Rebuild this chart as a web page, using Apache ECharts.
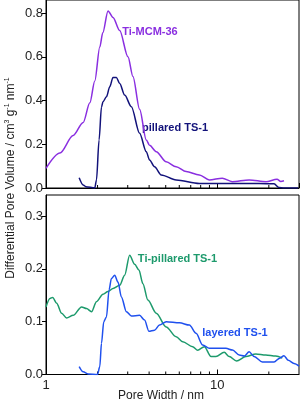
<!DOCTYPE html>
<html><head><meta charset="utf-8">
<script src="https://cdn.jsdelivr.net/npm/echarts@6/dist/echarts.min.js"></script>
<style>html,body{margin:0;padding:0;background:#fff}#c{width:301px;height:402px}</style>
</head><body><div id="c"></div>
<script>
// Pore width (nm) / differential pore volume (cm3 g-1 nm-1)
const mcm36X = [1.0, 1.206, 1.441, 1.648, 1.803, 1.927, 2.061, 2.145, 2.302, 2.462, 2.693, 3.010, 3.218, 3.520, 3.850, 4.025, 4.402, 5.031, 5.753, 6.577, 7.858, 8.985, 10.70, 12.22, 15.35, 19.27, 22.33, 23.5, 24.52];
const mcm36Y = [0.09, 0.16, 0.24, 0.30, 0.39, 0.49, 0.645, 0.71, 0.81, 0.78, 0.72, 0.60, 0.51, 0.36, 0.22, 0.195, 0.166, 0.12, 0.097, 0.075, 0.06, 0.037, 0.045, 0.029, 0.037, 0.029, 0.04, 0.03, 0.033];

const pillX = [1.562, 1.648, 1.708, 1.927, 1.971, 2.041, 2.108, 2.152, 2.254, 2.356, 2.462, 2.577, 2.693, 2.879, 3.150, 3.520, 3.850, 4.025, 4.302, 4.706, 5.753, 7.858, 12.22, 17.55, 21.45, 22.94, 24.52, 29.6];
const pillY = [0.047, 0.014, 0.006, 0.0, 0.037, 0.22, 0.37, 0.395, 0.417, 0.463, 0.506, 0.506, 0.478, 0.425, 0.372, 0.25, 0.166, 0.128, 0.097, 0.06, 0.037, 0.021, 0.021, 0.021, 0.019, 0.002, 0.0, 0.0];

const tiPillX = [1.0, 1.055, 1.094, 1.154, 1.234, 1.319, 1.441, 1.613, 1.724, 1.844, 1.971, 2.152, 2.302, 2.462, 2.693, 2.879, 3.078, 3.292, 3.487, 3.679, 3.934, 4.402, 5.031, 5.753, 6.285, 7.185, 7.683, 8.403, 9.193, 9.827, 10.98, 11.74, 12.95, 14.69, 16.79, 19.19, 21.94, 23.97];
const tiPillY = [0.128, 0.144, 0.146, 0.135, 0.116, 0.107, 0.112, 0.128, 0.125, 0.119, 0.138, 0.152, 0.157, 0.163, 0.169, 0.188, 0.226, 0.209, 0.198, 0.172, 0.141, 0.116, 0.090, 0.0715, 0.062, 0.0526, 0.046, 0.0526, 0.034, 0.034, 0.042, 0.034, 0.0255, 0.034, 0.039, 0.037, 0.035, 0.031];

const layX = [1.562, 1.648, 1.762, 1.998, 2.061, 2.108, 2.174, 2.254, 2.334, 2.41, 2.518, 2.633, 2.755, 2.946, 3.150, 3.520, 3.763, 3.986, 4.302, 4.599, 5.031, 6.013, 6.875, 7.518, 8.216, 8.985, 11.23, 12.27, 13.43, 14.36, 15.35, 16.41, 18.34, 21.45, 23.15, 24.52, 25.97, 28.04, 30];
const layY = [0.015, 0.005, 0.001, 0.0, 0.015, 0.059, 0.1, 0.109, 0.16, 0.182, 0.188, 0.175, 0.147, 0.119, 0.111, 0.112, 0.103, 0.082, 0.084, 0.0936, 0.1, 0.098, 0.0936, 0.078, 0.0558, 0.0495, 0.0495, 0.0463, 0.037, 0.035, 0.043, 0.034, 0.0236, 0.0236, 0.031, 0.0355, 0.027, 0.021, 0.016];

const minorTickVals = [2, 3, 4, 5, 6, 7, 8, 9, 20];
const topYTicks = [0.0, 0.2, 0.4, 0.6, 0.8];
const botYTicks = [0.0, 0.1, 0.2, 0.3];

const seriesNames = ['Ti-MCM-36', 'pillared TS-1', 'Ti-pillared TS-1', 'layered TS-1'];
const colors = ['#8a2fe0', '#12127a', '#1d9a6c', '#1f50ee'];

const zip = (xs, ys) => xs.map((x, i) => [x, ys[i]]);
const FONT = '"Liberation Sans", Arial, sans-serif';

const chart = echarts.init(document.getElementById('c'), null, {renderer: 'canvas'});

function xAxisCfg(gi, showLabel) {
  return {
    type: 'log', logBase: 10, gridIndex: gi, min: 1, max: 30,
    axisLine: {show: true, lineStyle: {color: '#000', width: 1}},
    axisTick: {show: true, inside: true, length: 5, lineStyle: {color: '#000'}},
    axisLabel: {show: showLabel, margin: 4, color: '#222', fontSize: 13, fontFamily: FONT, showMaxLabel: false},
    splitLine: {show: false}
  };
}
function yAxisCfg(gi, max, interval) {
  return {
    type: 'value', gridIndex: gi, min: 0, max: max, interval: interval,
    axisLine: {show: true, lineStyle: {color: '#000', width: 1}},
    axisTick: {show: true, inside: false, length: 4, lineStyle: {color: '#000'}},
    axisLabel: {color: '#222', fontSize: 13, fontFamily: FONT, margin: 3, showMaxLabel: false,
      formatter: v => v.toFixed(1)},
    splitLine: {show: false}
  };
}
function lineSeries(name, data, gi, color) {
  return {
    name, type: 'line', xAxisIndex: gi, yAxisIndex: gi, data,
    showSymbol: false, smooth: 0.3, smoothMonotone: 'x',
    lineStyle: {color, width: 1.5}, silent: true, animation: false
  };
}
function minorTicks(gi) {
  return {
    type: 'custom', xAxisIndex: gi, yAxisIndex: gi, silent: true, animation: false, clip: false,
    data: minorTickVals.map(v => [v, 0]),
    renderItem: (params, api) => {
      const p = api.coord([api.value(0), 0]);
      return {type: 'line', shape: {x1: p[0], y1: p[1], x2: p[0], y2: p[1] - 3},
        style: {stroke: '#000', lineWidth: 1}};
    }
  };
}
function label(text, x, y, color) {
  return {type: 'text', x, y, style: {text, fill: color, font: 'bold 11px ' + FONT, align: 'center', verticalAlign: 'middle'}};
}

chart.setOption({
  animation: false,
  grid: [
    {left: 46, right: 2, top: 0, height: 188, show: true, borderColor: '#000', borderWidth: 1},
    {left: 46, right: 2, top: 195, height: 179.5, show: true, borderColor: '#000', borderWidth: 1}
  ],
  xAxis: [xAxisCfg(0, false), xAxisCfg(1, true)],
  yAxis: [yAxisCfg(0, 0.86, 0.2), yAxisCfg(1, 0.34, 0.1)],
  series: [
    lineSeries(seriesNames[0], zip(mcm36X, mcm36Y), 0, colors[0]),
    lineSeries(seriesNames[1], zip(pillX, pillY), 0, colors[1]),
    lineSeries(seriesNames[2], zip(tiPillX, tiPillY), 1, colors[2]),
    lineSeries(seriesNames[3], zip(layX, layY), 1, colors[3]),
    minorTicks(0), minorTicks(1)
  ],
  graphic: [
    label(seriesNames[0], 150, 32, colors[0]),
    label(seriesNames[1], 175, 128, colors[1]),
    label(seriesNames[2], 177.5, 259, colors[2]),
    label(seriesNames[3], 235, 333, colors[3]),
    {type: 'text', x: 161, y: 396, style: {text: 'Pore Width / nm', fill: '#222', font: '12px ' + FONT, align: 'center', verticalAlign: 'middle'}},
    {type: 'text', x: 11, y: 178, rotation: Math.PI / 2,
      style: {text: 'Differential Pore Volume / cm{s|3} g{s|-1} nm{s|-1}', fill: '#222', font: '12px ' + FONT,
        align: 'center', verticalAlign: 'middle', lineHeight: 14,
        rich: {s: {fontSize: 7, fontFamily: FONT, fill: '#222', verticalAlign: 'top', lineHeight: 10}}}}
  ]
});
</script></body></html>
